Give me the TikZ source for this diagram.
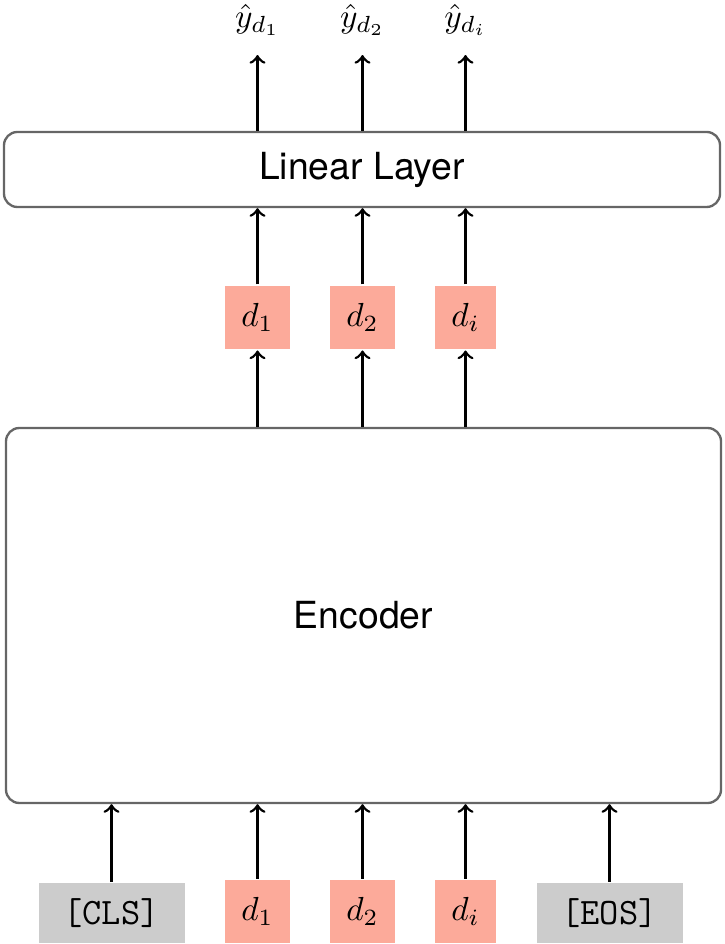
\documentclass[tikz,border=0pt]{standalone}
\usepackage{fontspec}
\newfontfamily\headfont{TeX Gyre Heros}
\definecolor{docred}{RGB}{252,170,154}
\definecolor{tokgray}{RGB}{204,204,204}
\definecolor{boxline}{RGB}{102,102,102}
\tikzset{
  layer/.style={draw=boxline,line width=0.7pt,rounded corners=4pt,inner sep=0pt,
    font=\headfont\fontsize{11.2}{13}\selectfont},
  doc/.style={fill=docred,inner xsep=4.8pt,inner ysep=5.2pt,minimum height=19pt},
  special/.style={fill=tokgray,inner sep=0pt,minimum width=43.8pt,minimum height=18pt,
    font=\ttfamily\fontsize{11.2}{13}\selectfont},
  pred/.style={inner sep=5.4pt}
}

\begin{document}
\begin{tikzpicture}[>=to,x=0.3pt,y=-0.3pt,line width=0.8pt]
\useasboundingbox (0,0) rectangle (724,944);
% outputs
\node[pred] (y1) at (257.5,20) {$\hat{y}_{d_1}$};
\node[pred] (y2) at (362.5,20) {$\hat{y}_{d_2}$};
\node[pred] (yi) at (465.5,20) {$\hat{y}_{d_i}$};
\node[layer,minimum width=214.8pt,minimum height=22.5pt] (lin) at (362,169.5) {Linear Layer};
%
\node[doc] (h1) at (257.5,317.5) {$d_1$};
\node[doc] (h2) at (362.5,317.5) {$d_2$};
\node[doc] (hi) at (465.5,317.5) {$d_i$};
\node[layer,minimum width=214.5pt,minimum height=112.5pt] (enc) at (363.5,615.5) {Encoder};
%
\node[special] (cls) at (111.5,913) {[CLS]};
\node[doc] (x1) at (257.5,911.5) {$d_1$};
\node[doc] (x2) at (362.5,911.5) {$d_2$};
\node[doc] (xi) at (465.5,911.5) {$d_i$};
\node[special] (eos) at (609.5,913) {[EOS]};
%
\draw[->] (y1 |- lin.north) -- (y1); \draw[->] (y2 |- lin.north) -- (y2); \draw[->] (yi |- lin.north) -- (yi);
\draw[->] (h1) -- (h1 |- lin.south); \draw[->] (h2) -- (h2 |- lin.south); \draw[->] (hi) -- (hi |- lin.south);
\draw[->] (h1 |- enc.north) -- (h1); \draw[->] (h2 |- enc.north) -- (h2); \draw[->] (hi |- enc.north) -- (hi);
\draw[->] (cls) -- (cls |- enc.south); \draw[->] (x1) -- (x1 |- enc.south); \draw[->] (x2) -- (x2 |- enc.south);
\draw[->] (xi) -- (xi |- enc.south); \draw[->] (eos) -- (eos |- enc.south);
\end{tikzpicture}
\end{document}
